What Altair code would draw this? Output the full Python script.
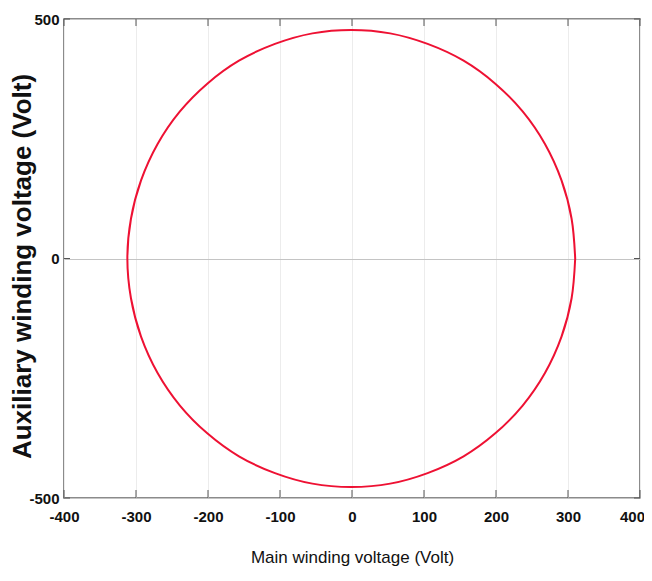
import altair as alt
import pandas as pd

# Points (main vs auxiliary winding voltage)
main_v = [310, 305, 291, 268, 237, 199, 155, 105, 53, -1, -55, -107, -157, -201, -239, -270,
          -293, -307, -312, -307, -293, -270, -239, -201, -157, -107, -55, -1, 53, 105, 155,
          199, 237, 268, 291, 305, 310]
aux_v = [0, 83, 163, 239, 307, 365, 413, 448, 470, 477, 470, 448, 413, 365, 307, 239,
         163, 83, 0, -83, -163, -239, -307, -365, -413, -448, -470, -477, -470, -448, -413,
         -365, -307, -239, -163, -83, 0]
x_ticks = [-400, -300, -200, -100, 0, 100, 200, 300, 400]
y_ticks = [-500, 0, 500]

W, H = 576, 479
FONT = "Liberation Sans, Arial, sans-serif"

df = pd.DataFrame({"main": main_v, "aux": aux_v, "i": list(range(len(main_v)))})
xt = pd.DataFrame({"v": x_ticks})
yt = pd.DataFrame({"v": y_ticks})

xs = alt.Scale(domain=[-400, 400], nice=False, zero=False)
ys = alt.Scale(domain=[-500, 500], nice=False, zero=False)

line = alt.Chart(df).mark_line(color="#ee1133", strokeWidth=2, interpolate="cardinal").encode(
    x=alt.X("main:Q", scale=xs,
            axis=alt.Axis(values=x_ticks, title="Main winding voltage (Volt)",
                          grid=True, gridColor="#ececec", gridWidth=1,
                          ticks=False, domain=False,
                          labelExpr="'' + datum.value",
                          labelFont=FONT, labelFontSize=15, labelFontWeight="bold",
                          labelColor="#111", labelPadding=11, labelBaseline="top",
                          labelFlush=False,
                          labelOffset={"expr": "datum.value == 400 ? -8 : 0"},
                          titleFont=FONT, titleFontSize=17, titleFontWeight="normal",
                          titleColor="#111", titleBaseline="alphabetic", titleY=64)),
    y=alt.Y("aux:Q", scale=ys,
            axis=alt.Axis(values=y_ticks, title="Auxiliary winding voltage (Volt)",
                          grid=True, gridColor="#c4c4c4", gridWidth=1,
                          ticks=False, domain=False,
                          labelExpr="'' + datum.value",
                          labelFont=FONT, labelFontSize=15, labelFontWeight="bold",
                          labelColor="#111", labelPadding=5, labelBaseline="middle",
                          labelFlush=False,
                          titleFont=FONT, titleFontSize=26, titleFontWeight="bold",
                          titleColor="#111", titleAngle=270, titleAlign="center",
                          titleBaseline="middle", titleX=-42, titleY=247)),
    order="i:Q",
)

tick_color = "#555555"
bottom_ticks = alt.Chart(xt).mark_rule(color=tick_color, strokeWidth=1).encode(
    x=alt.X("v:Q", scale=xs), y=alt.value(H - 8), y2=alt.value(H))
top_ticks = alt.Chart(xt).mark_rule(color=tick_color, strokeWidth=1).encode(
    x=alt.X("v:Q", scale=xs), y=alt.value(0), y2=alt.value(7))
left_ticks = alt.Chart(yt).mark_rule(color=tick_color, strokeWidth=1).encode(
    y=alt.Y("v:Q", scale=ys), x=alt.value(0), x2=alt.value(6))
right_ticks = alt.Chart(yt).mark_rule(color=tick_color, strokeWidth=1).encode(
    y=alt.Y("v:Q", scale=ys), x=alt.value(W - 6), x2=alt.value(W))

chart = alt.layer(line, bottom_ticks, top_ticks, left_ticks, right_ticks).properties(
    width=W, height=H,
    autosize=alt.AutoSizeParams(type="none"),
    padding={"left": 56, "top": 11, "right": 4, "bottom": 68},
    background="white",
).configure_view(stroke="#666666", strokeWidth=1.5)

chart.save("out.html", embed_options={"renderer": "svg", "actions": False})
